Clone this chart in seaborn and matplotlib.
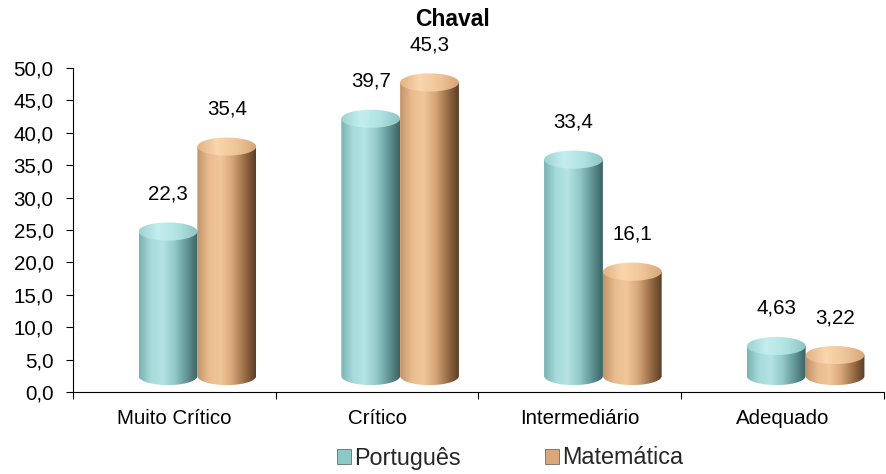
import numpy as np
import pandas as pd
import matplotlib
matplotlib.use("Agg")
import matplotlib.pyplot as plt
import matplotlib.transforms as mtransforms
from matplotlib.path import Path
from matplotlib.patches import PathPatch, Ellipse, Patch
from matplotlib.colors import LinearSegmentedColormap
from matplotlib.ticker import FuncFormatter, MultipleLocator, FixedLocator
import seaborn as sns

# Data
categories = ["Muito Crítico", "Crítico", "Intermediário", "Adequado"]
series = ["Português", "Matemática"]
portugues = [22.3, 39.7, 33.4, 4.63]
matematica = [35.4, 45.3, 16.1, 3.22]
title = "Chaval"

df = pd.DataFrame({
    "Nível": categories * 2,
    "Disciplina": [series[0]] * len(categories) + [series[1]] * len(categories),
    "Percentual": portugues + matematica,
})

base_colors = {"Português": "#8CC8C8", "Matemática": "#D9A77A"}
side_cmaps = {
    "Português": LinearSegmentedColormap.from_list(
        "pt", ["#7AB2B2", "#A6DADA", "#B5E3E3", "#94CACA", "#659999", "#3A6262"]),
    "Matemática": LinearSegmentedColormap.from_list(
        "mt", ["#C2936A", "#E8BC8E", "#F1C799", "#D6A679", "#9C6F48", "#5A3E26"]),
}
top_cmaps = {
    "Português": LinearSegmentedColormap.from_list(
        "pt_top", ["#9ED2D2", "#C4EEEE", "#B0E2E2", "#8EC4C4"]),
    "Matemática": LinearSegmentedColormap.from_list(
        "mt_top", ["#E2B285", "#FAD6AC", "#EFC598", "#D6A577"]),
}

sns.set_theme(style="white")
plt.rcParams["font.family"] = ["Liberation Sans", "DejaVu Sans"]

fig = plt.figure(figsize=(8.87, 4.74), dpi=100)
ax = fig.add_axes([73 / 887, 1 - 392 / 474, (884 - 73) / 887, (392 - 68) / 474])

sns.barplot(data=df, x="Nível", y="Percentual", hue="Disciplina",
            palette=base_colors, width=0.58, saturation=1, legend=False, ax=ax)

# perspective shift of the cylinders (depth of the 3D floor)
depth = mtransforms.ScaledTranslation(23 / 100, 16 / 100, fig.dpi_scale_trans)
trans = ax.transData + depth
cap_h = 2.8  # vertical diameter of the elliptical caps, in data units

grad = np.linspace(0, 1, 256).reshape(1, -1)
for container, name in zip(ax.containers, series):
    for bar in container:
        bar.set_visible(False)
        x0, w, h = bar.get_x(), bar.get_width(), bar.get_height()
        xc = x0 + w / 2
        # body: rectangle with rounded lower half-ellipse
        t = np.linspace(np.pi, 2 * np.pi, 60)
        arc = np.column_stack([xc + w / 2 * np.cos(t), cap_h / 2 * np.sin(t)])
        verts = np.vstack([[x0, h], [x0, 0], arc, [x0 + w, 0], [x0 + w, h], [x0, h]])
        codes = [Path.MOVETO] + [Path.LINETO] * (len(verts) - 2) + [Path.CLOSEPOLY]
        body = PathPatch(Path(verts, codes), facecolor="none", edgecolor="none",
                         transform=trans)
        ax.add_patch(body)
        im = ax.imshow(grad, cmap=side_cmaps[name], aspect="auto",
                       extent=(x0, x0 + w, -cap_h / 2, h), transform=trans,
                       zorder=2, interpolation="bicubic")
        im.set_clip_path(body)
        # top cap
        cap = Ellipse((xc, h), w, cap_h, facecolor="none", edgecolor="none",
                      transform=trans)
        ax.add_patch(cap)
        im2 = ax.imshow(grad, cmap=top_cmaps[name], aspect="auto",
                        extent=(x0, x0 + w, h - cap_h / 2, h + cap_h / 2),
                        transform=trans, zorder=3, interpolation="bicubic")
        im2.set_clip_path(cap)
        # value label
        ax.annotate(f"{h:g}".replace(".", ","), xy=(xc, h), xycoords=trans,
                    xytext=(0, 27), textcoords="offset points",
                    ha="center", va="center", fontsize=14.8, color="black",
                    zorder=5)

ax.set_xlim(-0.5, len(categories) - 0.5)
ax.set_ylim(0, 50)
ax.yaxis.set_major_locator(MultipleLocator(5))
ax.yaxis.set_major_formatter(FuncFormatter(lambda v, _: f"{v:.1f}".replace(".", ",")))
ax.set_xlabel("")
ax.set_ylabel("")

ax.xaxis.set_minor_locator(FixedLocator(np.arange(-0.5, len(categories), 1.0)))
ax.tick_params(axis="x", which="major", length=0, pad=12.5, labelsize=14.8,
               colors="black")
ax.tick_params(axis="x", which="minor", bottom=True, length=5, width=0.8,
               color="black", direction="out")
ax.tick_params(axis="y", which="major", left=True, length=5, width=0.8,
               color="black", pad=9, labelsize=14.8, labelcolor="black",
               direction="out")

for s in ["top", "right"]:
    ax.spines[s].set_visible(False)
for s in ["left", "bottom"]:
    ax.spines[s].set_color("black")
    ax.spines[s].set_linewidth(0.8)

fig.text(453 / 887, 1 - 20 / 474, title, ha="center", va="center",
         fontsize=16.5, fontweight="bold", color="black")

handles = [Patch(facecolor=base_colors[s], edgecolor="#555555", linewidth=0.5)
           for s in series]
fig.legend(handles, series, loc="center", bbox_to_anchor=(510 / 887, 1 - 458 / 474),
           ncol=2, frameon=False, fontsize=16.8, handlelength=0.6, handleheight=0.6,
           handletextpad=0.15, columnspacing=3.6, borderpad=0)

fig.savefig("out.png", dpi=100)
